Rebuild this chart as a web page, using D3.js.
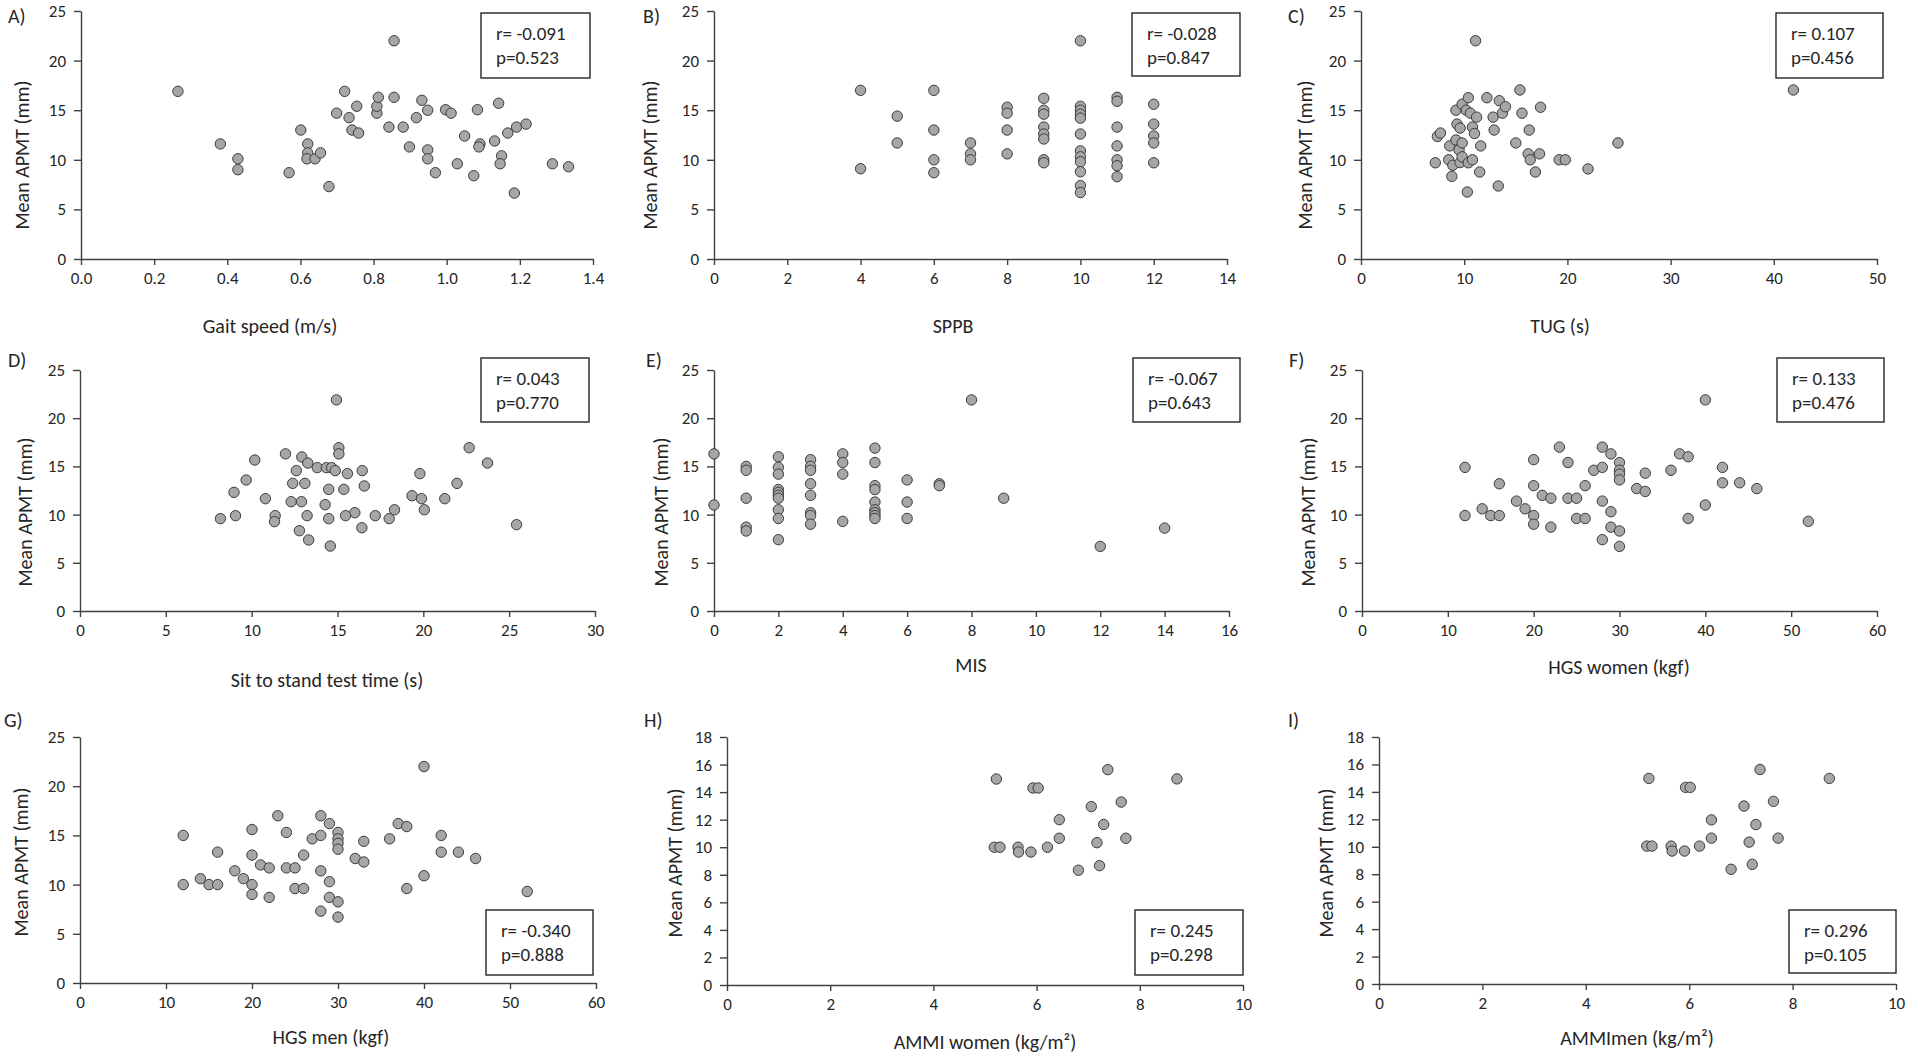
<!DOCTYPE html>
<html>
<head>
<meta charset="utf-8">
<script src="https://cdn.jsdelivr.net/npm/d3@7"></script>
<style>
  body { margin: 0; background: #fff; }
  text { font-family: Carlito, Lato, "Open Sans", sans-serif; fill: #262626; }
</style>
</head>
<body>
<script>
// ---- data ----
// A) gait speed (m/s) vs mean APMT (mm)
var gaitPoints = [[0.265,16.9],[0.381,11.6],[0.429,10.1],[0.429,9.0],[0.569,8.7],[0.601,13.0],[0.620,11.6],[0.620,10.7],[0.618,10.1],[0.640,10.1],
  [0.655,10.7],[0.678,7.3],[0.699,14.7],[0.721,16.9],[0.733,14.25],[0.741,13.0],[0.754,15.4],[0.759,12.7],[0.809,14.7],[0.809,15.4],
  [0.813,16.3],[0.842,13.3],[0.856,22.0],[0.856,16.3],[0.881,13.3],[0.898,11.3],[0.917,14.25],[0.932,16.0],[0.948,15.0],[0.948,11.0],
  [0.948,10.1],[0.969,8.7],[0.997,15.05],[1.012,14.7],[1.029,9.6],[1.049,12.4],[1.074,8.4],[1.084,15.05],[1.091,11.6],[1.088,11.3],
  [1.131,11.9],[1.142,15.7],[1.150,10.4],[1.146,9.6],[1.167,12.7],[1.185,6.65],[1.191,13.3],[1.217,13.6],[1.289,9.6],[1.333,9.3]];
// B) SPPB score vs mean APMT
var sppbPoints = [[4,17.0],[4,9.1],[5,14.4],[5,11.7],[6,17.0],[6,13.0],[6,10.0],[6,8.7],[7,11.7],[7,10.6],[7,10.0],
  [8,15.3],[8,14.7],[8,13.0],[8,10.6],[9,16.2],[9,15.0],[9,14.6],[9,13.3],[9,12.6],[9,12.1],[9,10.0],[9,9.7],
  [10,22.0],[10,15.4],[10,15.0],[10,14.6],[10,14.2],[10,12.6],[10,10.9],[10,10.3],[10,9.8],[10,8.8],[10,7.4],[10,6.7],
  [11,16.3],[11,15.9],[11,13.3],[11,11.4],[11,10.0],[11,9.4],[11,8.3],[12,15.6],[12,13.6],[12,12.4],[12,11.7],[12,9.7]];
// C) TUG (s) vs mean APMT
var tugPoints = [[7.2,9.7],[7.4,12.35],[7.7,12.7],[8.5,10.0],[8.6,11.4],[8.8,8.33],[8.9,9.45],[9.2,15.0],[9.2,12.0],[9.3,13.6],
  [9.5,11.0],[9.6,13.2],[9.6,9.72],[9.8,15.6],[9.8,11.7],[9.8,10.3],[10.2,15.0],[10.3,6.75],[10.4,16.26],[10.4,9.7],
  [10.6,14.7],[10.8,13.3],[10.8,10.0],[11.0,12.65],[11.1,22.0],[11.2,14.3],[11.5,8.77],[11.6,11.4],[12.2,16.26],[12.8,14.3],
  [12.9,13.0],[13.3,7.36],[13.4,15.96],[13.7,14.7],[14.0,15.35],[15.0,11.7],[15.4,17.04],[15.6,14.7],[16.2,10.6],[16.3,13.0],
  [16.4,10.0],[16.9,8.77],[17.3,10.6],[17.4,15.3],[19.2,10.0],[19.8,10.0],[22.0,9.08],[24.9,11.7],[41.9,17.04]];
// D) sit to stand test time (s) vs mean APMT
var sitStandPoints = [[14.94,21.9],[22.67,16.94],[15.08,16.94],[15.08,16.3],[11.97,16.3],[10.18,15.66],[12.92,15.98],[13.27,15.35],
  [13.82,14.87],[14.35,14.87],[14.66,14.87],[14.87,14.56],[23.74,15.35],[12.6,14.56],[16.44,14.56],[15.58,14.25],[19.8,14.25],
  [9.68,13.59],[12.39,13.24],[13.1,13.24],[16.56,12.97],[21.96,13.24],[14.49,12.62],[15.37,12.62],[8.97,12.31],[10.8,11.65],
  [12.3,11.34],[12.9,11.34],[14.28,11.03],[19.34,11.96],[19.89,11.65],[21.25,11.65],[18.32,10.5],[16.01,10.2],[20.06,10.5],
  [9.06,9.89],[11.37,9.89],[11.33,9.27],[13.23,9.89],[15.47,9.89],[17.2,9.89],[18.01,9.58],[14.49,9.58],[8.18,9.58],
  [16.42,8.64],[12.78,8.33],[13.32,7.37],[14.58,6.74],[25.43,8.96]];
// E) MIS vs mean APMT
var misPoints = [[0,16.3],[0,11.0],[1,15.0],[1,14.6],[1,11.7],[1,8.7],[1,8.3],
  [2,16.0],[2,14.9],[2,14.2],[2,12.6],[2,12.3],[2,12.0],[2,11.7],[2,10.5],[2,9.6],[2,7.4],
  [3,15.7],[3,15.0],[3,14.6],[3,13.2],[3,12.0],[3,10.2],[3,9.9],[3,9.0],[4,16.3],[4,15.4],[4,14.2],[4,9.3],
  [5,16.9],[5,15.4],[5,13.0],[5,12.6],[5,11.3],[5,10.5],[5,10.2],[5,9.9],[5,9.6],[6,13.6],[6,11.3],[6,9.6],
  [7,13.2],[7,13.0],[8,21.9],[9,11.7],[12,6.7],[14,8.6]];
// F) HGS women (kgf) vs mean APMT
var hgsWomenPoints = [[12,14.9],[12,9.9],[14,10.6],[15,9.9],[16,9.9],[16,13.2],[18,11.4],[19,10.6],[20,15.7],[20,13.0],
  [20,9.9],[20,9.0],[21,12.0],[22,11.7],[22,8.7],[23,17.0],[24,15.4],[24,11.7],[25,11.7],[25,9.6],[26,9.6],[26,13.0],
  [27,14.6],[28,17.0],[28,14.9],[28,11.4],[28,7.4],[29,16.3],[29,10.3],[29,8.7],[30,15.4],[30,14.6],[30,14.2],[30,13.6],
  [30,8.3],[30,6.7],[32,12.7],[33,14.3],[33,12.4],[36,14.6],[37,16.3],[38,16.0],[38,9.6],[40,21.9],[40,11.0],[42,14.9],
  [42,13.3],[44,13.3],[46,12.7],[52,9.3]];
// G) HGS men (kgf) vs mean APMT
var hgsMenPoints = [[12,15.0],[12,10.0],[14,10.6],[15,10.0],[16,10.0],[16,13.3],[18,11.4],[19,10.6],[20,15.6],[20,13.0],
  [20,10.0],[20,9.0],[21,12.0],[22,11.7],[22,8.7],[23,17.0],[24,15.3],[24,11.7],[25,11.7],[25,9.6],[26,9.6],[26,13.0],
  [27,14.65],[28,17.0],[28,15.0],[28,11.4],[28,7.3],[29,16.2],[29,10.3],[29,8.7],[30,15.3],[30,14.65],[30,14.2],[30,13.6],
  [30,8.25],[30,6.7],[32,12.65],[33,14.4],[33,12.3],[36,14.65],[37,16.2],[38,15.9],[38,9.6],[40,22.0],[40,10.9],[42,15.0],
  [42,13.3],[44,13.3],[46,12.65],[52,9.3]];
// H) AMMI women (kg/m2) vs mean APMT
var ammiWomenPoints = [[5.22,14.95],[5.18,10.0],[5.29,10.0],[5.64,10.0],[5.65,9.65],[5.89,9.65],[5.93,14.3],[6.03,14.3],
  [6.21,10.0],[6.44,12.0],[6.44,10.65],[6.81,8.33],[7.06,12.95],[7.17,10.33],[7.22,8.66],[7.3,11.65],[7.38,15.63],
  [7.64,13.28],[7.73,10.65],[8.72,14.96]];
// I) AMMI men (kg/m2) vs mean APMT
var ammiMenPoints = [[5.22,14.98],[5.18,10.05],[5.28,10.05],[5.65,10.05],[5.67,9.69],[5.91,9.69],[5.93,14.33],[6.02,14.33],
  [6.2,10.05],[6.43,11.96],[6.43,10.63],[6.81,8.36],[7.06,12.97],[7.16,10.34],[7.22,8.72],[7.29,11.62],[7.37,15.63],
  [7.63,13.31],[7.72,10.63],[8.71,14.98]];

// tick labels
var gaitTicks = [0, 0.2, 0.4, 0.6, 0.8, 1.0, 1.2, 1.4];
var sppbTicks = [0, 2, 4, 6, 8, 10, 12, 14];
var tugTicks = [0, 10, 20, 30, 40, 50];
var sitStandTicks = [0, 5, 10, 15, 20, 25, 30];
var misTicks = [0, 2, 4, 6, 8, 10, 12, 14, 16];
var hgsTicks = [0, 10, 20, 30, 40, 50, 60];
var ammiTicks = [0, 2, 4, 6, 8, 10];
var apmtTicks = [0, 5, 10, 15, 20, 25];
var apmtSmallTicks = [0, 2, 4, 6, 8, 10, 12, 14, 16, 18];

// correlation labels
var rValues = ["-0.091", "-0.028", "0.107", "0.043", "-0.067", "0.133", "-0.340", "0.245", "0.296"];
var pValues = ["0.523", "0.847", "0.456", "0.770", "0.643", "0.476", "0.888", "0.298", "0.105"];

var W = 1907, H = 1053;
var svg = d3.select("body").append("svg").attr("width", W).attr("height", H);

var panels = [
  { tag: "A)", pts: gaitPoints, xt: gaitTicks, yt: apmtTicks, fmt: d3.format(".1f"), xTitle: "Gait speed (m/s)",
    l: 81, r: 593, t: 11, b: 259, tagX: 8, tagY: 23, yTx: 22, yTy: 155, xTx: 270, xTy: 333, box: [481, 13, 109, 65] },
  { tag: "B)", pts: sppbPoints, xt: sppbTicks, yt: apmtTicks, xTitle: "SPPB",
    l: 714, r: 1227, t: 11, b: 259, tagX: 643, tagY: 23, yTx: 650, yTy: 155, xTx: 953, xTy: 333, box: [1132, 13, 108, 63] },
  { tag: "C)", pts: tugPoints, xt: tugTicks, yt: apmtTicks, xTitle: "TUG (s)",
    l: 1361, r: 1877, t: 11, b: 259, tagX: 1288, tagY: 23, yTx: 1305, yTy: 155, xTx: 1560, xTy: 333, box: [1776, 13, 107, 65] },
  { tag: "D)", pts: sitStandPoints, xt: sitStandTicks, yt: apmtTicks, xTitle: "Sit to stand test time (s)",
    l: 80, r: 595, t: 370, b: 611, tagX: 8, tagY: 367, yTx: 25, yTy: 512, xTx: 327, xTy: 687, box: [481, 358, 108, 64] },
  { tag: "E)", pts: misPoints, xt: misTicks, yt: apmtTicks, xTitle: "MIS",
    l: 714, r: 1229, t: 370, b: 611, tagX: 646, tagY: 367, yTx: 661, yTy: 512, xTx: 971, xTy: 672, box: [1133, 358, 107, 64] },
  { tag: "F)", pts: hgsWomenPoints, xt: hgsTicks, yt: apmtTicks, xTitle: "HGS women (kgf)",
    l: 1362, r: 1877, t: 370, b: 611, tagX: 1289, tagY: 367, yTx: 1308, yTy: 512, xTx: 1619, xTy: 674, box: [1777, 358, 107, 64] },
  { tag: "G)", pts: hgsMenPoints, xt: hgsTicks, yt: apmtTicks, xTitle: "HGS men (kgf)",
    l: 80, r: 596, t: 737, b: 983, tagX: 4, tagY: 727, yTx: 21, yTy: 862, xTx: 331, xTy: 1044, box: [486, 910, 107, 65] },
  { tag: "H)", pts: ammiWomenPoints, xt: ammiTicks, yt: apmtSmallTicks, xTitle: "AMMI women (kg/m²)",
    l: 727, r: 1243, t: 737, b: 985, tagX: 644, tagY: 727, yTx: 675, yTy: 863, xTx: 985, xTy: 1049, box: [1135, 910, 108, 65] },
  { tag: "I)", pts: ammiMenPoints, xt: ammiTicks, yt: apmtSmallTicks, xTitle: "AMMImen (kg/m²)",
    l: 1379, r: 1896, t: 737, b: 984, tagX: 1288, tagY: 727, yTx: 1326, yTy: 863, xTx: 1637, xTy: 1045, box: [1789, 910, 107, 63] }
];

panels.forEach(function (p, i) {
  var g = svg.append("g");
  var x = d3.scaleLinear().domain([p.xt[0], p.xt[p.xt.length - 1]]).range([p.l, p.r]);
  var y = d3.scaleLinear().domain([p.yt[0], p.yt[p.yt.length - 1]]).range([p.b, p.t]);

  var xAxis = d3.axisBottom(x).tickValues(p.xt).tickSize(6).tickPadding(7).tickSizeOuter(0)
    .tickFormat(p.fmt || function (d) { return d; });
  var yAxis = d3.axisLeft(y).tickValues(p.yt).tickSize(7).tickPadding(8).tickSizeOuter(0)
    .tickFormat(function (d) { return d; });

  var gx = g.append("g").attr("transform", "translate(0," + p.b + ")").call(xAxis);
  var gy = g.append("g").attr("transform", "translate(" + p.l + ",0)").call(yAxis);
  [gx, gy].forEach(function (a) {
    a.select(".domain").attr("stroke", "#404040").attr("stroke-width", 1.4);
    a.selectAll(".tick line").attr("stroke", "#404040").attr("stroke-width", 1.4);
    a.selectAll(".tick text").style("font-size", "17px").attr("fill", "#262626");
  });

  // points
  g.selectAll("circle").data(p.pts).enter().append("circle")
    .attr("cx", function (d) { return x(d[0]); })
    .attr("cy", function (d) { return y(d[1]); })
    .attr("r", 5.2)
    .attr("fill", "#a6a6a6")
    .attr("stroke", "#3c3c3c")
    .attr("stroke-width", 1);

  // panel tag
  g.append("text").attr("x", p.tagX).attr("y", p.tagY).style("font-size", "20px").text(p.tag);

  // axis titles
  g.append("text").attr("transform", "translate(" + p.yTx + "," + p.yTy + ") rotate(-90)")
    .attr("text-anchor", "middle").attr("dy", "0.35em").style("font-size", "20px").text("Mean APMT (mm)");
  g.append("text").attr("x", p.xTx).attr("y", p.xTy).attr("text-anchor", "middle")
    .style("font-size", "20px").text(p.xTitle);

  // r / p box
  var bx = p.box;
  g.append("rect").attr("x", bx[0]).attr("y", bx[1]).attr("width", bx[2]).attr("height", bx[3])
    .attr("fill", "#fff").attr("stroke", "#262626").attr("stroke-width", 1.4);
  g.append("text").attr("x", bx[0] + 15).attr("y", bx[1] + 27).style("font-size", "19px").text("r= " + rValues[i]);
  g.append("text").attr("x", bx[0] + 15).attr("y", bx[1] + 51).style("font-size", "19px").text("p=" + pValues[i]);
});
</script>
</body>
</html>
